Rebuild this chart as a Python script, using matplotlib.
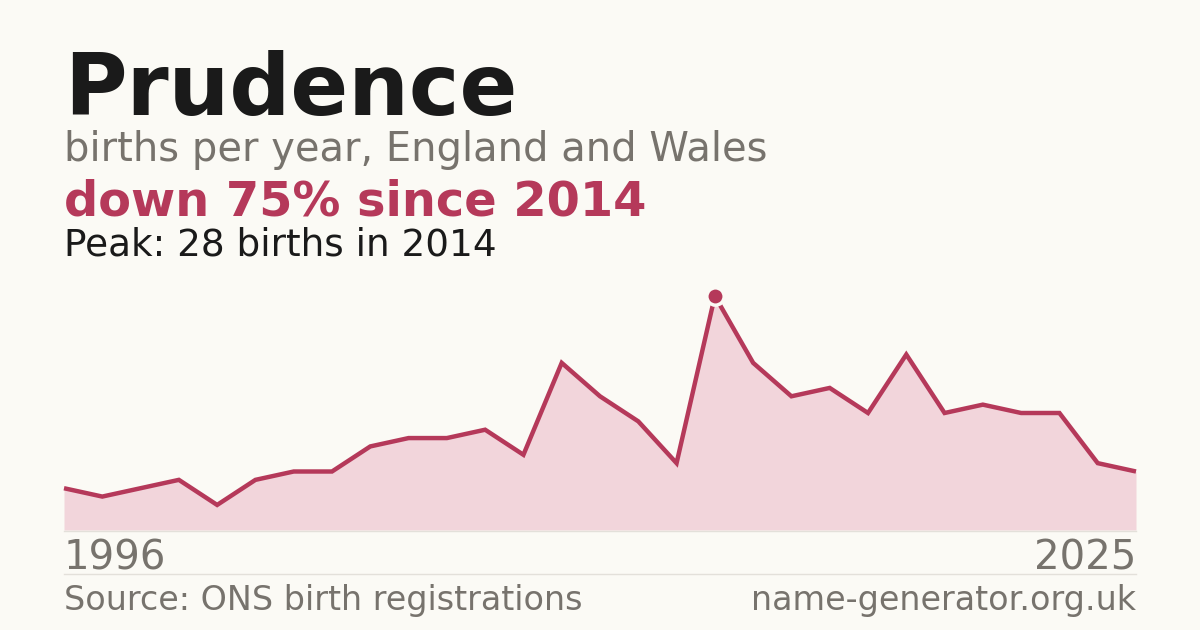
import matplotlib.pyplot as plt

# Births per year for the name
years = [1996, 1997, 1998, 1999, 2000, 2001, 2002, 2003, 2004, 2005,
         2006, 2007, 2008, 2009, 2010, 2011, 2012, 2014, 2015, 2016,
         2017, 2018, 2019, 2020, 2021, 2022, 2023, 2024, 2025]
births = [5, 4, 5, 6, 3, 6, 7, 7, 10, 11,
          11, 12, 9, 20, 16, 13, 8, 28, 20, 16,
          17, 14, 21, 14, 15, 14, 14, 8, 7]
peak_index = births.index(max(births))

BG = "#fbfaf5"
LINE = "#b5395a"
FILL = "#f2d5db"
GREY = "#77736d"

W, H = 1200, 630
fig = plt.figure(figsize=(12, 6.3), dpi=100, facecolor=BG)


def fx(px):
    return px / W


def fy(py):
    return 1 - py / H


ax = fig.add_axes([fx(64), fy(530), fx(1136) - fx(64), fy(296) - fy(530)])
ax.set_facecolor(BG)
idx = list(range(len(years)))
ax.fill_between(idx, births, 0, color=FILL, lw=0)
ax.plot(idx, births, color=LINE, lw=3.2, solid_joinstyle="miter",
        solid_capstyle="butt", clip_on=False)
ax.plot([peak_index], [births[peak_index]], "o", ms=12.5, color=LINE,
        mec=BG, mew=2.5, clip_on=False, zorder=5)
ax.set_xlim(0, len(years) - 1)
ax.set_ylim(0, max(births))
ax.axis("off")

# thin rules under the chart and above the footer
fig.add_artist(plt.Line2D([fx(64), fx(1136)], [fy(530.5), fy(530.5)], color="#e3e0da", lw=1))
fig.add_artist(plt.Line2D([fx(64), fx(1136)], [fy(574), fy(574)], color="#e3e0da", lw=1))

fig.text(fx(64), fy(115), "Prudence", fontsize=61.5, fontweight="bold",
         color="#1a1a1a", va="baseline")
fig.text(fx(64), fy(161), "births per year, England and Wales", fontsize=28.8,
         color=GREY, va="baseline")
fig.text(fx(64), fy(215), "down 75% since 2014", fontsize=34.5, fontweight="bold",
         color=LINE, va="baseline")
fig.text(fx(64), fy(255), "Peak: 28 births in 2014", fontsize=26.9,
         color="#1a1a1a", va="baseline")
fig.text(fx(64), fy(569), str(years[0]), fontsize=29, color=GREY, va="baseline")
fig.text(fx(1136), fy(569), str(years[-1]), fontsize=29, color=GREY,
         va="baseline", ha="right")
fig.text(fx(64), fy(610), "Source: ONS birth registrations", fontsize=24,
         color=GREY, va="baseline")
fig.text(fx(1136), fy(610), "name-generator.org.uk", fontsize=24, color=GREY,
         va="baseline", ha="right")

fig.savefig("out.png", dpi=100, facecolor=BG)
